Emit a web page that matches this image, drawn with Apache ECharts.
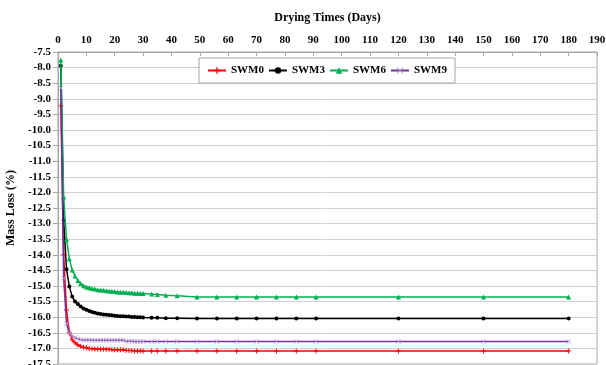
<!DOCTYPE html>
<html>
<head>
<meta charset="utf-8">
<script src="https://cdn.jsdelivr.net/npm/echarts@6/dist/echarts.min.js"></script>
<style>
html,body{margin:0;padding:0;background:#fff;}
#c{width:606px;height:365px;}
</style>
</head>
<body>
<div id="c"></div>
<script>
// Drying time (days)
const days = [1,2,3,4,5,6,7,8,9,10,11,12,13,14,15,16,17,18,19,20,21,22,23,24,25,26,27,28,29,30,
  33,35,38,42,49,56,63,70,77,84,91,120,150,180];
const seriesNames = ['SWM0','SWM3','SWM6','SWM9'];
const swm0 = [-9.22,-14.00,-15.77,-16.50,-16.72,-16.82,-16.89,-16.93,-16.96,-16.98,-17.00,-17.01,-17.02,-17.02,-17.03,-17.03,-17.03,-17.03,-17.04,-17.04,-17.04,-17.04,-17.04,-17.07,-17.07,-17.07,-17.08,-17.08,-17.08,-17.08,
  -17.08,-17.08,-17.08,-17.08,-17.08,-17.08,-17.08,-17.08,-17.08,-17.08,-17.08,-17.08,-17.08,-17.08];
const swm3 = [-7.94,-12.90,-14.46,-15.02,-15.34,-15.50,-15.58,-15.66,-15.72,-15.76,-15.80,-15.83,-15.86,-15.88,-15.90,-15.91,-15.92,-15.93,-15.94,-15.95,-15.96,-15.97,-15.97,-15.98,-15.98,-15.99,-15.99,-16.00,-16.00,-16.01,
  -16.02,-16.02,-16.03,-16.03,-16.04,-16.04,-16.04,-16.04,-16.04,-16.04,-16.04,-16.04,-16.04,-16.04];
const swm6 = [-7.76,-12.15,-13.50,-14.13,-14.49,-14.68,-14.82,-14.92,-14.99,-15.03,-15.06,-15.08,-15.10,-15.12,-15.13,-15.14,-15.15,-15.16,-15.17,-15.18,-15.19,-15.20,-15.20,-15.21,-15.22,-15.22,-15.23,-15.23,-15.24,-15.24,
  -15.26,-15.27,-15.30,-15.31,-15.35,-15.35,-15.35,-15.35,-15.35,-15.35,-15.35,-15.35,-15.35,-15.35];
const swm9 = [-8.66,-14.75,-16.20,-16.50,-16.60,-16.66,-16.70,-16.72,-16.73,-16.73,-16.73,-16.74,-16.74,-16.74,-16.74,-16.74,-16.74,-16.74,-16.74,-16.74,-16.74,-16.74,-16.74,-16.77,-16.77,-16.77,-16.78,-16.78,-16.78,-16.78,
  -16.78,-16.78,-16.78,-16.78,-16.78,-16.78,-16.78,-16.78,-16.78,-16.78,-16.78,-16.78,-16.78,-16.78];
const xTitle = 'Drying Times (Days)';
const yTitle = 'Mass Loss (%)';

const values = [swm0, swm3, swm6, swm9];
const lineColors = ['#ff0000','#000000','#00b050','#7030a0'];
const markColors = ['#ff0000','#000000','#00b050','#b8a2d8'];
const plusPath = 'path://M4,0 L6,0 L6,4 L10,4 L10,6 L6,6 L6,10 L4,10 L4,6 L0,6 L0,4 L4,4 Z';
const crossPath = 'path://M0,1 L1,0 L5,4 L9,0 L10,1 L6,5 L10,9 L9,10 L5,6 L1,10 L0,9 L4,5 Z';
const symbols = [plusPath, 'circle', 'triangle', crossPath];
const sizes = [5, 4, 5, 5];

const serif = '"Liberation Serif","Times New Roman",serif';
const chart = echarts.init(document.getElementById('c'), null, {renderer:'canvas'});
chart.setOption({
  animation:false,
  backgroundColor:'#ffffff',
  grid:{left:58, right:9, top:52, bottom:1, show:true, borderColor:'#a6a6a6', borderWidth:1,
    containLabel:false, outerBoundsMode:'none'},
  legend:{
    top:58, left:199,
    itemWidth:18, itemHeight:8, itemGap:4,
    padding:[7,8,7,8],
    borderColor:'#a6a6a6', borderWidth:1, backgroundColor:'#ffffff',
    textStyle:{fontFamily:serif, fontWeight:'bold', fontSize:11, color:'#000'},
    data: seriesNames
  },
  xAxis:{
    type:'value', position:'top', min:0, max:190, interval:10,
    name:xTitle, nameLocation:'middle', nameGap:28,
    nameTextStyle:{fontFamily:serif, fontWeight:'bold', fontSize:12, color:'#000'},
    axisLine:{show:true, onZero:false, lineStyle:{color:'#a6a6a6'}},
    axisTick:{show:true, inside:true, length:4, lineStyle:{color:'#a6a6a6'}},
    axisLabel:{fontFamily:serif, fontWeight:'bold', fontSize:11, color:'#000', margin:6},
    splitLine:{show:false}
  },
  yAxis:{
    type:'value', min:-17.5, max:-7.5, interval:0.5,
    name:yTitle, nameLocation:'middle', nameGap:36, nameRotate:90,
    nameTextStyle:{fontFamily:serif, fontWeight:'bold', fontSize:12, color:'#000'},
    axisLine:{show:true, onZero:false, lineStyle:{color:'#a6a6a6'}},
    axisTick:{show:true, length:5, lineStyle:{color:'#a6a6a6'}},
    axisLabel:{fontFamily:serif, fontWeight:'bold', fontSize:11, color:'#000', margin:7,
      formatter:function(v){return v.toFixed(1);}},
    splitLine:{show:true, lineStyle:{color:'#d0d0d0', width:1}}
  },
  series: seriesNames.map(function(n,i){
    return {
      name:n, type:'line',
      data: days.map(function(d,j){return [d, values[i][j]];}),
      symbol:symbols[i], symbolSize:sizes[i], showSymbol:true,
      lineStyle:{color:lineColors[i], width:1.5},
      itemStyle:{color:markColors[i]},
      z: 2 + i
    };
  })
});
</script>
</body>
</html>
